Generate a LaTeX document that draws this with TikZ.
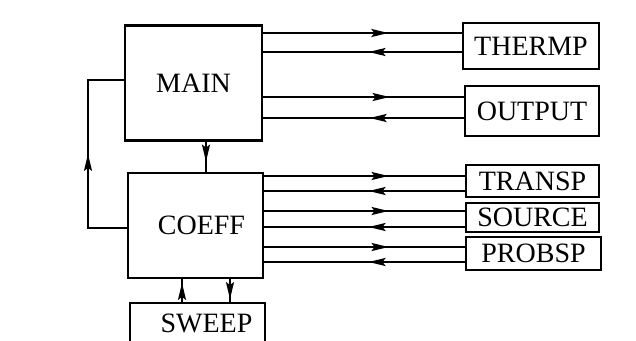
\documentclass[tikz,border=0pt]{standalone}
\usepackage{fontspec}
\setmainfont{Liberation Serif}
\usetikzlibrary{arrows.meta,decorations.markings}

\begin{document}
\begin{tikzpicture}[
    x=1pt, y=-1pt,
    box/.style={draw, line width=2.2pt, inner sep=0pt, font=\fontsize{28}{28}\selectfont},
    link/.style={line width=2pt, postaction={decorate},
      decoration={markings, mark=at position #1 with {\arrow[line width=2pt]{Stealth[length=17pt,width=8pt,inset=3pt]}}}}
  ]
    \useasboundingbox (0,0) rectangle (636,340);
    % modules
    \node[box, minimum width=137pt, minimum height=115pt] (main) at (193.5,83) {MAIN};
    \node[box, minimum width=135pt, minimum height=105pt] (coeff) at (195.5,225.5) {\hspace*{12pt}COEFF};
    \node[box, minimum width=135pt, minimum height=40pt] (sweep) at (197.5,323) {\hspace*{18pt}SWEEP};
    \node[box, minimum width=136pt, minimum height=46pt] (thermp) at (531,46) {THERMP};
    \node[box, minimum width=134pt, minimum height=50pt] (output) at (532,111) {OUTPUT};
    \node[box, minimum width=133pt, minimum height=32pt] (transp) at (532.5,181) {TRANSP};
    \node[box, minimum width=133pt, minimum height=29pt] (source) at (532.5,217.5) {SOURCE};
    \node[box, minimum width=135pt, minimum height=33pt] (probsp) at (533.5,253.5) {PROBSP};
    % calls from MAIN
    \draw[link=0.63] (main.east |- 0,33) -- (thermp.west |- 0,33);
    \draw[link=0.47] (thermp.west |- 0,52) -- (main.east |- 0,52);
    \draw[link=0.63] (main.east |- 0,97) -- (output.west |- 0,97);
    \draw[link=0.47] (output.west |- 0,118) -- (main.east |- 0,118);
    % calls from COEFF
    \draw[link=0.62] (coeff.east |- 0,176) -- (transp.west |- 0,176);
    \draw[link=0.48] (transp.west |- 0,191) -- (coeff.east |- 0,191);
    \draw[link=0.62] (coeff.east |- 0,211) -- (source.west |- 0,211);
    \draw[link=0.48] (source.west |- 0,227) -- (coeff.east |- 0,227);
    \draw[link=0.62] (coeff.east |- 0,247) -- (probsp.west |- 0,247);
    \draw[link=0.48] (probsp.west |- 0,262) -- (coeff.east |- 0,262);
    % MAIN <-> COEFF
    \draw[link=20pt] (main.south -| 206,0) -- (coeff.north -| 206,0);
    \coordinate (loop) at (88,0);
    \draw[link=113pt] (coeff.west |- 0,228) -- (loop |- 0,228) -- (loop |- 0,80) -- (main.west |- 0,80);
    % COEFF <-> SWEEP
    \draw[link=19pt] (sweep.north -| 182,0) -- (coeff.south -| 182,0);
    \draw[link=20pt] (coeff.south -| 230,0) -- (sweep.north -| 230,0);
  \end{tikzpicture}
\end{document}
